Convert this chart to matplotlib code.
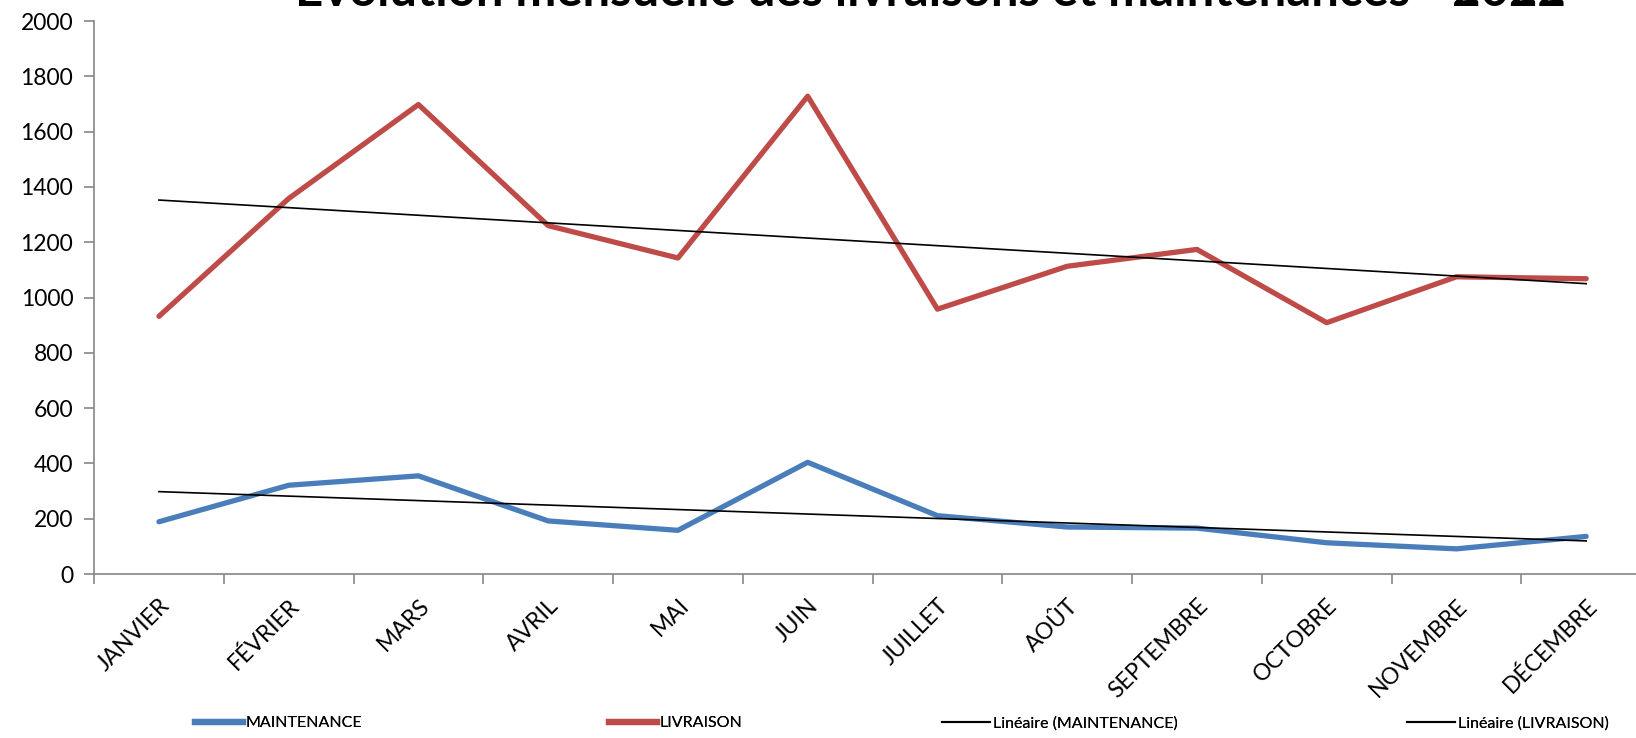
import numpy as np
import matplotlib
matplotlib.use("Agg")
import matplotlib.pyplot as plt
from matplotlib.lines import Line2D
from matplotlib.ticker import FixedLocator

months = ["JANVIER", "FÉVRIER", "MARS", "AVRIL", "MAI", "JUIN", "JUILLET",
          "AOÛT", "SEPTEMBRE", "OCTOBRE", "NOVEMBRE", "DÉCEMBRE"]
maintenance = [189, 321, 355, 192, 158, 404, 211, 170, 166, 113, 91, 136]
livraison = [932, 1358, 1698, 1260, 1143, 1728, 958, 1113, 1174, 909, 1075, 1068]

blue = "#4A7EBB"
red = "#BE4B48"
grey = "#868686"

plt.rcParams["font.family"] = ["Lato", "DejaVu Sans"]

fig = plt.figure(figsize=(16.36, 7.38), dpi=100)
ax = fig.add_axes([0.0575, 0.2222, 0.9517, 0.7493])

x = np.arange(len(months))
ax.plot(x, maintenance, color=blue, lw=3.8, solid_capstyle="round")
ax.plot(x, livraison, color=red, lw=3.8, solid_capstyle="round")

# droites de tendance linéaire
for vals in (maintenance, livraison):
    a, b = np.polyfit(x, vals, 1)
    ax.plot(x, a * x + b, color="black", lw=1.2)

ax.set_xlim(-0.5, len(months) - 0.5)
ax.set_ylim(0, 2000)
ax.set_yticks(range(0, 2001, 200))
ax.set_xticks(x)
ax.set_xticklabels(months, rotation=45, ha="right", rotation_mode="anchor")
ax.xaxis.set_minor_locator(FixedLocator(np.arange(-0.5, len(months), 1)))
ax.tick_params(axis="x", which="major", length=0, labelsize=16.5, pad=15)
ax.tick_params(axis="x", which="minor", length=7, color=grey, width=1.2)
ax.tick_params(axis="y", length=7, color=grey, width=1.2, labelsize=16.5, pad=8)
for s in ("top", "right"):
    ax.spines[s].set_visible(False)
for s in ("left", "bottom"):
    ax.spines[s].set_color(grey)
    ax.spines[s].set_linewidth(1.2)

fig.text(0.5688, 0.992, "Évolution mensuelle des livraisons et maintenances - 2022",
         ha="center", va="baseline", fontsize=35.3, fontweight="bold")

entries = [
    (Line2D([], [], color=blue, lw=4.5), "MAINTENANCE", 0.119),
    (Line2D([], [], color=red, lw=4.5), "LIVRAISON", 0.372),
    (Line2D([], [], color="black", lw=1.5), "Linéaire (MAINTENANCE)", 0.576),
    (Line2D([], [], color="black", lw=1.5), "Linéaire (LIVRAISON)", 0.860),
]
for h, lab, xpos in entries:
    leg = fig.legend([h], [lab], loc="center left", bbox_to_anchor=(xpos, 0.02),
                     frameon=False, handlelength=3.0, handletextpad=0.2,
                     borderpad=0, borderaxespad=0, fontsize=11.5)
    fig.add_artist(leg)

fig.savefig("out.png", dpi=100)
